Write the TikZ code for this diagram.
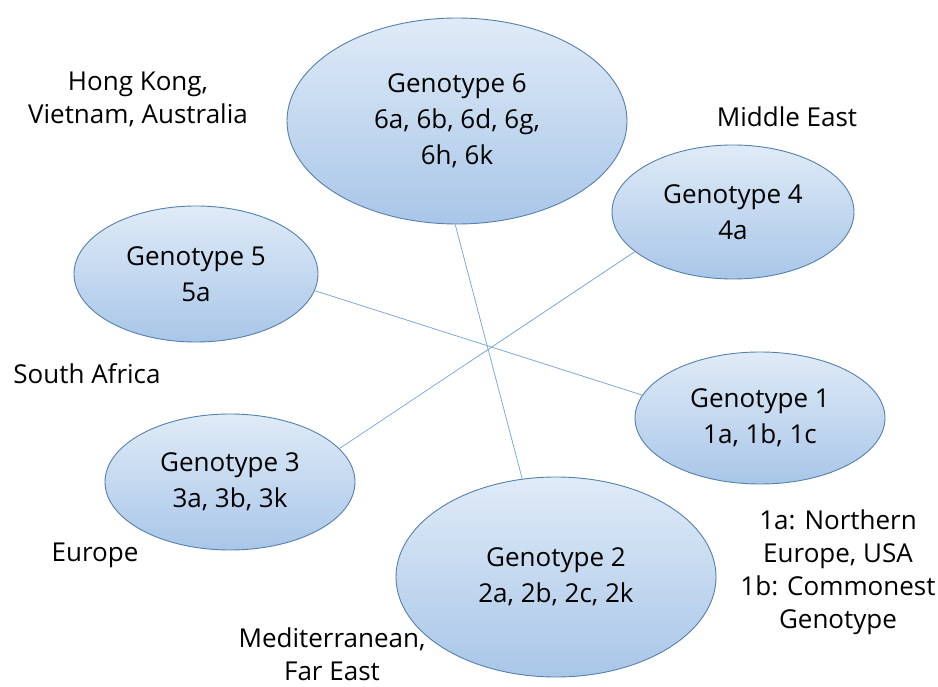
\documentclass[tikz,border=0pt]{standalone}
\usepackage{fontspec}
\setmainfont{Open Sans}
\usetikzlibrary{shapes.geometric}
\definecolor{topc}{HTML}{DFEBF7}
\definecolor{botc}{HTML}{A9C6E8}
\definecolor{rimc}{HTML}{5580AC}
\definecolor{linkc}{HTML}{7EA9D8}
\tikzset{
  geno/.style={ellipse, draw=rimc, line width=0.9pt, top color=topc, bottom color=botc,
    align=center, inner sep=0pt, font=\fontsize{26}{36}\selectfont},
  place/.style={align=center, inner sep=0pt, font=\fontsize{26}{33}\selectfont},
  link/.style={draw=linkc, line width=0.8pt}
}
\begin{document}
\begin{tikzpicture}[x=1pt,y=-1pt]
\useasboundingbox (0,0) rectangle (938,687);
\node[geno, minimum width=340pt, minimum height=206pt] (g6) at (457,121) {Genotype 6\\6a, 6b, 6d, 6g,\\6h, 6k};
\node[geno, minimum width=242pt, minimum height=134pt] (g4) at (733,212) {Genotype 4\\4a};
\node[geno, minimum width=244pt, minimum height=136pt] (g5) at (196,274) {Genotype 5\\5a};
\node[geno, minimum width=250pt, minimum height=132pt] (g1) at (760,418) {Genotype 1\\1a, 1b, 1c};
\node[geno, minimum width=250pt, minimum height=136pt] (g3) at (230,482) {Genotype 3\\3a, 3b, 3k};
\node[geno, minimum width=320pt, minimum height=200pt] (g2) at (556,577) {Genotype 2\\2a, 2b, 2c, 2k};

\draw[link] (g6.-91) -- (g2.109);
\draw[link] (g4.202) -- (g3.17);
\draw[link] (g5.-8) -- (g1.169);

\node[place] (hk) at (138,99) {Hong Kong,\\Vietnam, Australia};
\node[place] (me) at (787,117) {Middle East};
\node[place] (sa) at (87,374) {South Africa};
\node[place] (eu) at (95,555) {Europe};
\node[place] (med) at (332,654) {Mediterranean,\\Far East};
\node[place] (note) at (838,572) {1a: Northern\\Europe, USA\\1b: Commonest\\Genotype};
\end{tikzpicture}
\end{document}
